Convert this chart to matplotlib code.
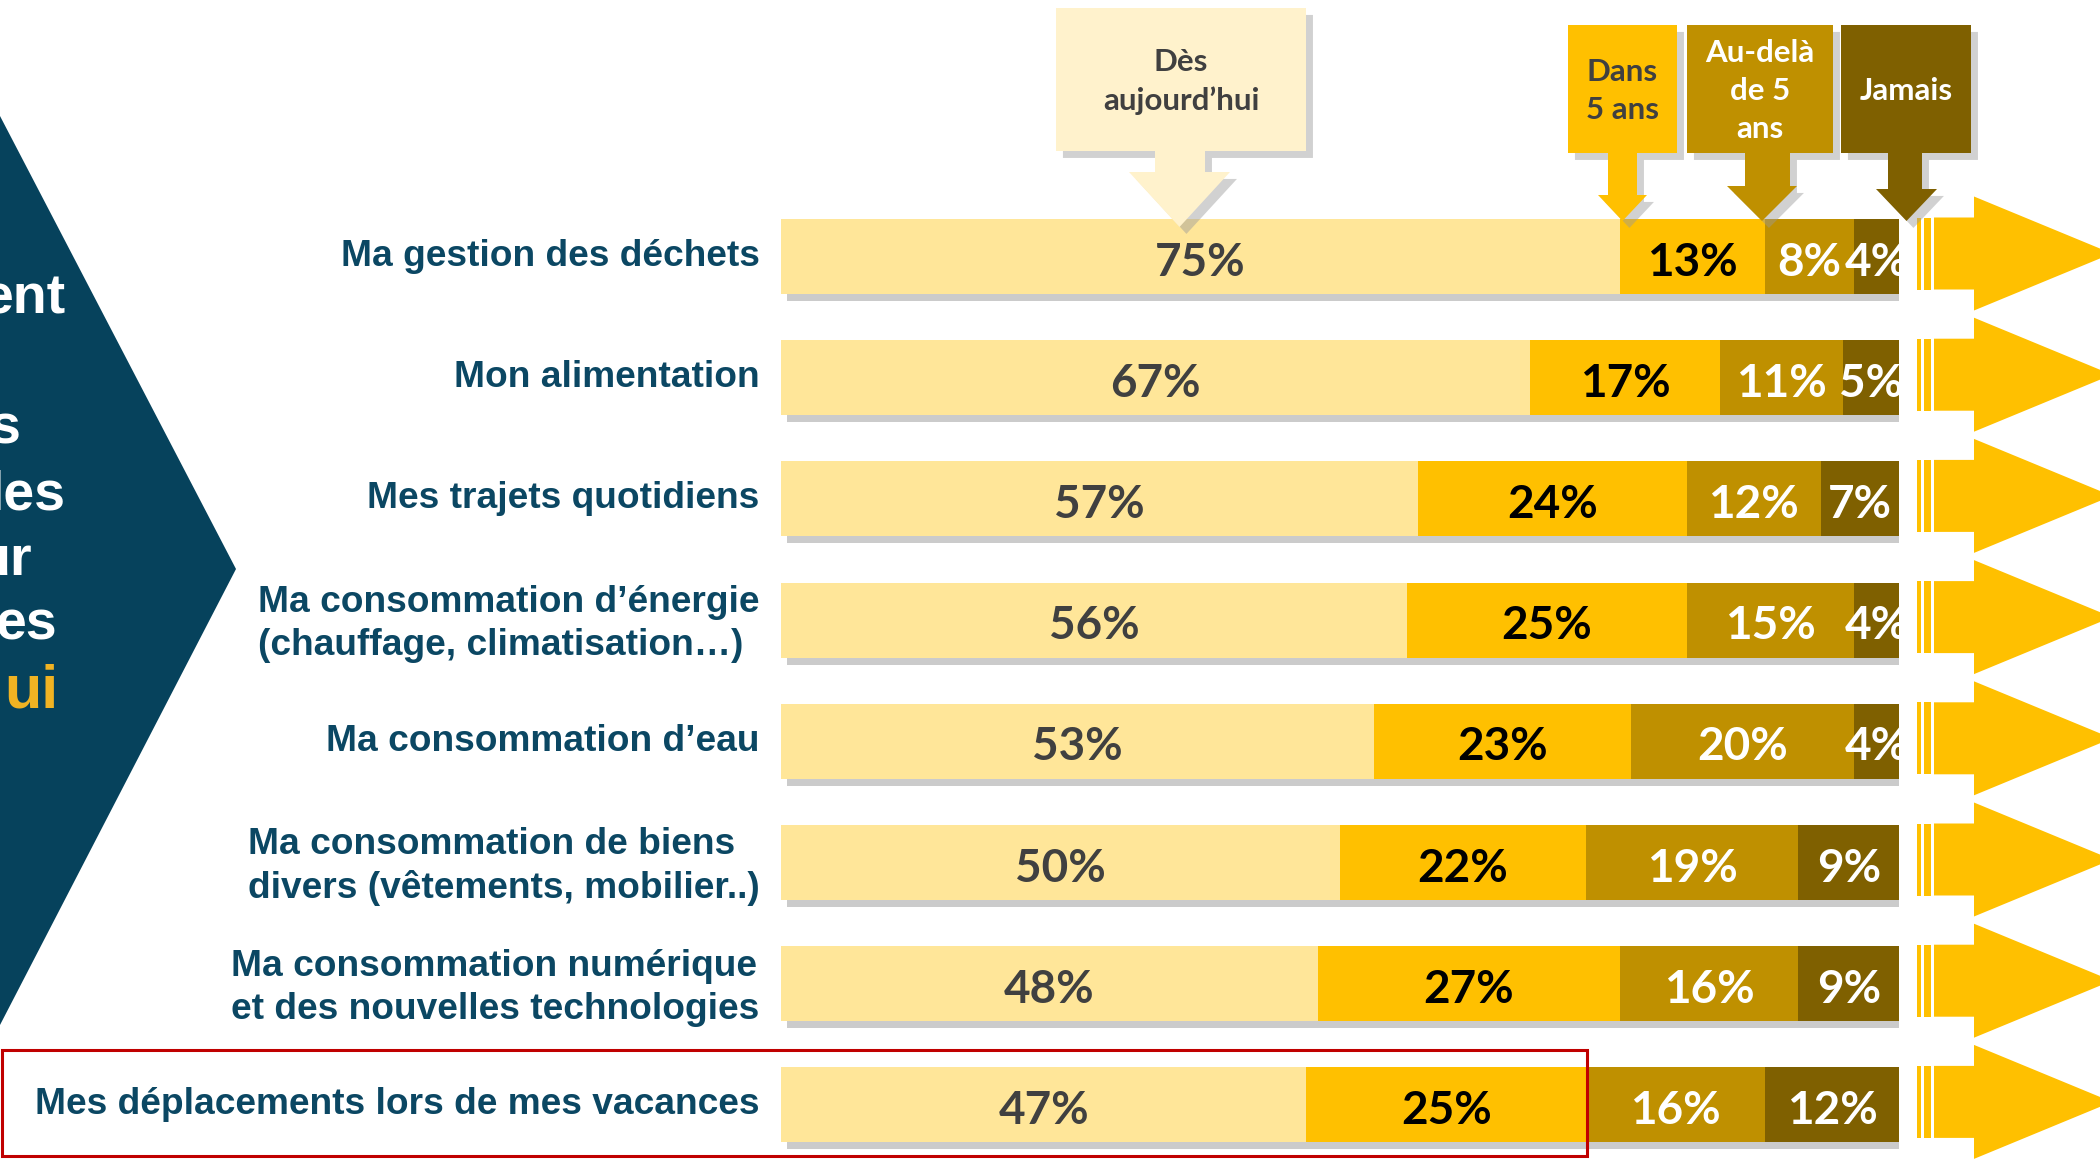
import matplotlib
matplotlib.use("Agg")
import matplotlib.pyplot as plt
from matplotlib.patches import Polygon, Rectangle
import matplotlib.patheffects as pe
import matplotlib.transforms as mtransforms
from matplotlib import font_manager as fm
import numpy as np

# ---------------- data ----------------
categories = [
    "Ma gestion des déchets",
    "Mon alimentation",
    "Mes trajets quotidiens",
    "Ma consommation d’énergie\n(chauffage, climatisation…)",
    "Ma consommation d’eau",
    "Ma consommation de biens\ndivers (vêtements, mobilier..)",
    "Ma consommation numérique\net des nouvelles technologies",
    "Mes déplacements lors de mes vacances",
]
des_aujourdhui = [75, 67, 57, 56, 53, 50, 48, 47]
dans_5_ans = [13, 17, 24, 25, 23, 22, 27, 25]
au_dela_5_ans = [8, 11, 12, 15, 20, 19, 16, 16]
jamais = [4, 5, 7, 4, 4, 9, 9, 12]
series_labels = ["Dès\naujourd’hui", "Dans\n5 ans", "Au-delà\nde 5\nans", "Jamais"]
series_colors = ["#FFE699", "#FFC000", "#BF9000", "#7F6000"]
value_text_colors = ["#404040", "#000000", "#FFFFFF", "#FFFFFF"]
header_text_colors = ["#404040", "#404040", "#FFFFFF", "#FFFFFF"]
side_fragments = ["ent", "s", "les", "ur", "es", "ui"]

# ---------------- fonts ----------------
names = {f.name for f in fm.fontManager.ttflist}
HUM = "Lato" if "Lato" in names else "DejaVu Sans"
LABEL_FONT = "Liberation Sans" if "Liberation Sans" in names else "DejaVu Sans"

W, H = 2100, 1160
fig = plt.figure(figsize=(W / 100, H / 100), dpi=100)
fig.patch.set_facecolor("white")

# ---------------- bars axes ----------------
pitch = 121.2
first_c = 256.5
top_px = first_c - pitch / 2
x0, x1 = 781, 1899
ax = fig.add_axes([x0 / W, 0, (x1 - x0) / W, 1 - top_px / H])
n_vis = (H - top_px) / pitch
ax.set_xlim(0, 100)
ax.set_ylim(-0.5 + n_vis, -0.5)
ax.set_facecolor("none")
for s in ax.spines.values():
    s.set_visible(False)
ax.tick_params(axis="x", bottom=False, labelbottom=False)
ax.tick_params(axis="y", left=False, pad=12)

series = [des_aujourdhui, dans_5_ans, au_dela_5_ans, jamais]
y = np.arange(len(categories))
left = np.zeros(len(categories))
shadow = [pe.SimplePatchShadow(offset=(4, -5), shadow_rgbFace="#8c8c8c", alpha=0.45), pe.Normal()]
for k, vals in enumerate(series):
    vals = np.array(vals, dtype=float)
    bars = ax.barh(y, vals, left=left, height=0.62, color=series_colors[k], linewidth=0, zorder=2)
    for b in bars:
        b.set_path_effects(shadow)
    for yi, (l, v) in enumerate(zip(left, vals)):
        ax.text(l + v / 2, yi + 0.05, f"{int(v)}%", ha="center", va="center",
                fontsize=33, fontweight="bold", color=value_text_colors[k], zorder=5,
                family=HUM)
    left = left + vals

ax.set_yticks(y)
ax.set_yticklabels(categories, fontsize=26.7, fontweight="bold", color="#0B4763",
                   family=LABEL_FONT, linespacing=1.3)
up = mtransforms.ScaledTranslation(0, 4 / 100, fig.dpi_scale_trans)
for t in ax.get_yticklabels():
    t.set_multialignment("left")
    t.set_transform(t.get_transform() + up)

# ---------------- overlay (decorations) ----------------
ov = fig.add_axes([0, 0, 1, 1])
ov.set_xlim(0, W)
ov.set_ylim(H, 0)
ov.axis("off")
ov.set_facecolor("none")

# left chevron
ov.add_patch(Polygon([(0, 116), (236, 569), (0, 1025)], closed=True,
                     facecolor="#06425C", edgecolor="none", zorder=1))
frag_x = [66, 20, 65, 32, 57, 59]
frag_y = [314, 444, 510, 575, 640, 708]
for i, (txt, fx, fy) in enumerate(zip(side_fragments, frag_x, frag_y)):
    last = i == len(side_fragments) - 1
    ov.text(fx, fy, txt, ha="right", va="baseline", fontsize=44 if last else 40,
            fontweight="bold", color="#F0B323" if last else "white",
            family=LABEL_FONT, zorder=2)

# header boxes + down arrows
hshadow = [pe.SimplePatchShadow(offset=(5, -5), shadow_rgbFace="#9a9a9a", alpha=0.45), pe.Normal()]
hdr_color = ["#FFF2CC", series_colors[1], series_colors[2], series_colors[3]]
boxes = [(1056, 1306, 8, 151), (1568, 1677, 25, 153), (1687, 1833, 25, 153), (1841, 1971, 25, 153)]
stems = [(1155, 1205), (1608, 1637), (1745, 1790), (1888, 1922)]
heads = [(1129, 1230, 172, 227), (1598, 1647, 195, 221), (1727, 1797, 186, 221), (1876, 1937, 189, 221)]
for k in range(4):
    bx0, bx1, by0, by1 = boxes[k]
    sx0, sx1 = stems[k]
    hx0, hx1, hy0, tip = heads[k]
    tipx = (hx0 + hx1) / 2
    poly = [(bx0, by0), (bx1, by0), (bx1, by1), (sx1, by1), (sx1, hy0), (hx1, hy0),
            (tipx, tip), (hx0, hy0), (sx0, hy0), (sx0, by1), (bx0, by1)]
    p = Polygon(poly, closed=True, facecolor=hdr_color[k], edgecolor="none", zorder=3)
    p.set_path_effects(hshadow)
    ov.add_patch(p)
    ov.text((bx0 + bx1) / 2, (by0 + by1) / 2 + 2, series_labels[k], ha="center", va="center",
            fontsize=22.5, fontweight="bold", color=header_text_colors[k],
            linespacing=1.45, zorder=4, family=HUM)

# right arrows per row
for i in range(len(categories)):
    cy = first_c + pitch * i - 3
    ov.add_patch(Rectangle((1917, cy - 36), 4, 72, facecolor="#FFC000", edgecolor="none", zorder=2))
    ov.add_patch(Rectangle((1924, cy - 36), 7, 72, facecolor="#FFC000", edgecolor="none", zorder=2))
    ov.add_patch(Polygon([(1934, cy - 36), (1974, cy - 36), (1974, cy - 57), (2112, cy),
                          (1974, cy + 57), (1974, cy + 36), (1934, cy + 36)], closed=True,
                         facecolor="#FFC000", edgecolor="none", zorder=2))

# highlight frame around last row
ov.add_patch(Rectangle((2, 1050), 1585, 106, facecolor="none", edgecolor="#C00000",
                       linewidth=2.2, zorder=6))

fig.savefig("out.png", dpi=100, facecolor="white")
